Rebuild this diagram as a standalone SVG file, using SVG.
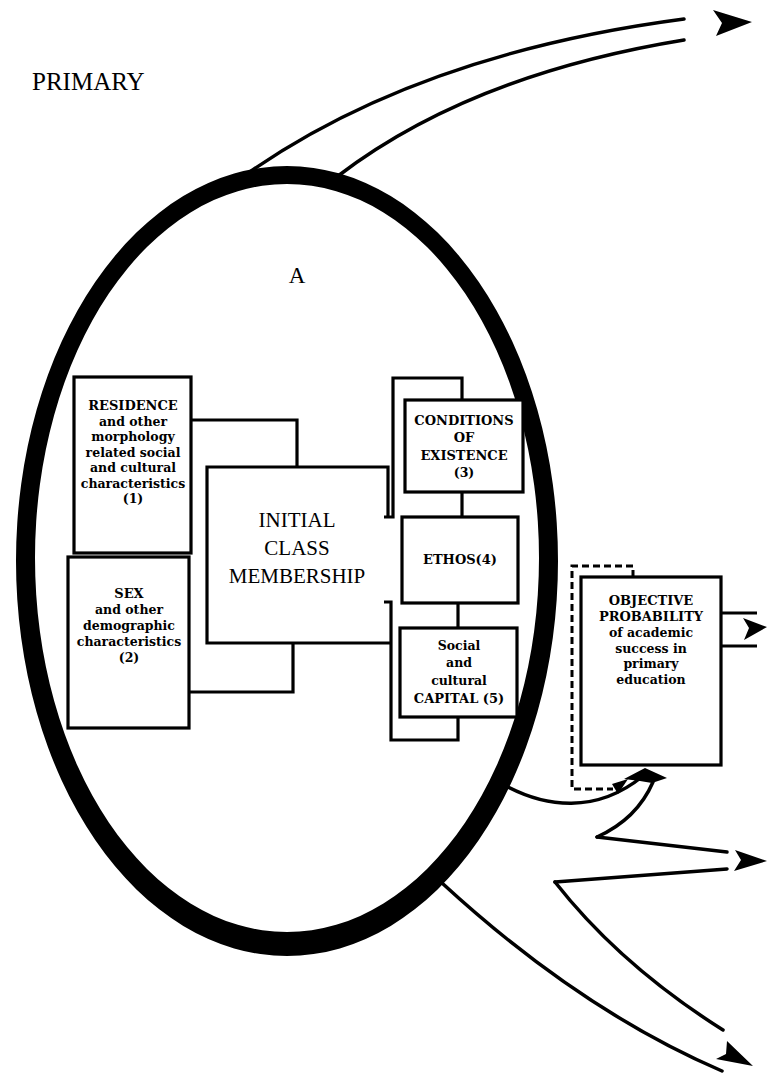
<svg xmlns="http://www.w3.org/2000/svg" width="767" height="1074" viewBox="0 0 767 1074">
<style>
.box{fill:#fff;stroke:#000;stroke-width:3.2}
.ln{fill:none;stroke:#000;stroke-width:3.2;stroke-linejoin:miter}
.fl{fill:none;stroke:#000;stroke-width:3.5;stroke-linecap:round;stroke-linejoin:round}
.dash{fill:none;stroke:#000;stroke-width:3;stroke-dasharray:7 4}
.ah{fill:#000;stroke:none}
.t{font-family:"DejaVu Serif",serif;font-weight:bold;font-size:12.5px;text-anchor:middle;fill:#000}
.c{font-size:13px}
.big{font-family:"Liberation Serif",serif;font-size:21px;text-anchor:middle;fill:#000}
.lbl{font-family:"Liberation Serif",serif;fill:#000}
</style>
<rect width="767" height="1074" fill="#fff"/>
<text class="lbl" x="32" y="90" font-size="25">PRIMARY</text>

<g id="flows">
<path class="fl" d="M237,181 Q410,55 684,19" stroke-width="4"/>
<path class="fl" d="M338,176 Q470,75 684,40"/>
<path class="ah" d="M713,10 L752,22 L716,36 L722,23 Z"/>
<path class="fl" d="M508,787 C545,806 595,815 643,776"/>
<path class="fl" d="M597,837 C617,828 640,812 653,782"/>
<path class="ah" d="M624,779 L645,768 L667,778 L652,783 L640,781 Z"/>
<path class="fl" d="M597,837 L727,852"/>
<path class="fl" d="M555,882 L727,869"/>
<path class="ah" d="M735,850 L767,861 L734,871 L741,860 Z"/>
<path class="fl" d="M555,882 Q620,965 723,1030"/>
<path class="fl" d="M442,883 Q580,1010 722,1071"/>
<path class="ah" d="M727,1041 L753,1066 L716,1059 L726,1054 Z"/>
</g>

<g id="ellipse-A">
<path fill="#000" fill-rule="evenodd" d="M16,561 a271,395 0 1,0 542,0 a271,395 0 1,0 -542,0 Z M35,558 a252,374 0 1,0 504,0 a252,374 0 1,0 -504,0 Z"/>
<text class="lbl" x="297" y="283" font-size="23" text-anchor="middle">A</text>
</g>

<g id="connectors">
<path class="ln" d="M191,420 H297 V467"/>
<path class="ln" d="M189,692 H293 V643"/>
<path class="ln" d="M384,517 H393 V378 H462 V400"/>
<path class="ln" d="M384,602 H391 V740 H458 V717"/>
<path class="ln" d="M462,492 V517"/>
<path class="ln" d="M458,603 V628"/>
<path class="ln" d="M721,613 H757"/>
<path class="ln" d="M721,646 H757"/>
<path class="ah" d="M743,618 L767,627 L744,640 L749,628 Z"/>
<path class="dash" d="M633,577 V566 H572 V789 H613"/>
<path class="ah" d="M612,784 L628,779 L618,794 Z"/>
</g>

<g id="residence">
<rect class="box" x="74" y="377" width="117" height="176"/>
<text class="t c" x="133" y="410">RESIDENCE</text>
<text class="t" x="133" y="425.5">and other</text>
<text class="t" x="133" y="441">morphology</text>
<text class="t" x="133" y="456.5">related social</text>
<text class="t" x="133" y="472">and cultural</text>
<text class="t" x="133" y="487.5">characteristics</text>
<text class="t" x="133" y="503">(1)</text>
</g>

<g id="sex">
<rect class="box" x="68" y="557" width="121" height="171"/>
<text class="t c" x="129" y="598">SEX</text>
<text class="t" x="129" y="614">and other</text>
<text class="t" x="129" y="630">demographic</text>
<text class="t" x="129" y="646">characteristics</text>
<text class="t" x="129" y="662">(2)</text>
</g>

<g id="initial-class">
<path class="ln" d="M388,517 V467 H207 V643 H391"/>
<text class="big" x="297" y="527">INITIAL</text>
<text class="big" x="297" y="555">CLASS</text>
<text class="big" x="297" y="583">MEMBERSHIP</text>
</g>

<g id="conditions">
<rect class="box" x="405" y="400" width="118" height="92"/>
<text class="t c" x="464" y="425">CONDITIONS</text>
<text class="t c" x="464" y="442">OF</text>
<text class="t c" x="464" y="460">EXISTENCE</text>
<text class="t" x="464" y="477">(3)</text>
</g>

<g id="ethos">
<rect class="box" x="402" y="517" width="116" height="86"/>
<text class="t c" x="460" y="564">ETHOS(4)</text>
</g>

<g id="capital">
<rect class="box" x="400" y="628" width="117" height="89"/>
<text class="t" x="459" y="650">Social</text>
<text class="t" x="459" y="667">and</text>
<text class="t" x="459" y="685">cultural</text>
<text class="t c" x="459" y="703">CAPITAL (5)</text>
</g>

<g id="objective">
<rect class="box" x="581" y="577" width="140" height="188"/>
<text class="t c" x="651" y="605">OBJECTIVE</text>
<text class="t c" x="651" y="621">PROBABILITY</text>
<text class="t" x="651" y="637">of academic</text>
<text class="t" x="651" y="652.5">success in</text>
<text class="t" x="651" y="668">primary</text>
<text class="t" x="651" y="683.5">education</text>
</g>
</svg>
